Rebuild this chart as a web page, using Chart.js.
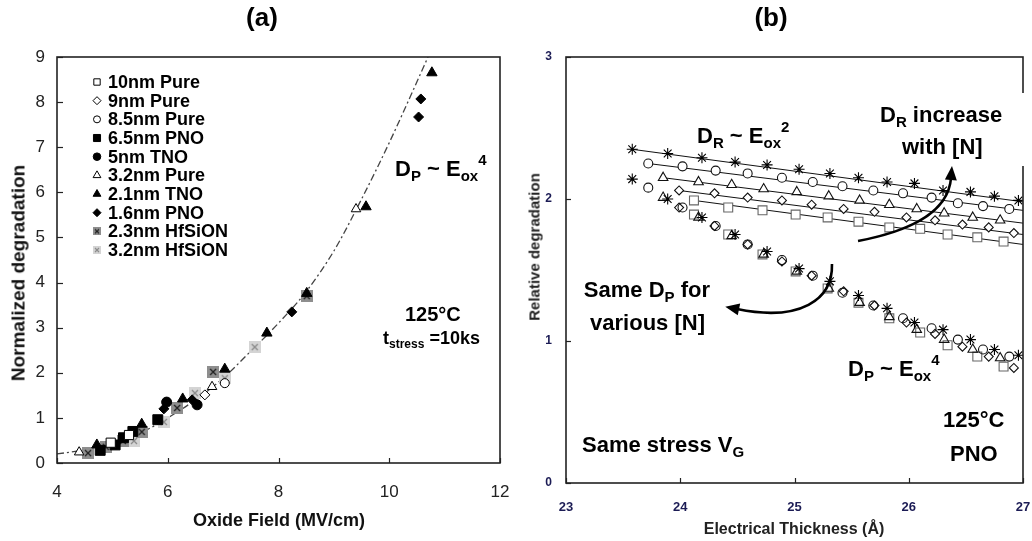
<!DOCTYPE html>
<html><head><meta charset="utf-8">
<script src="https://cdn.jsdelivr.net/npm/chart.js@4.4.0/dist/chart.umd.min.js"></script>
<style>
html,body{margin:0;padding:0;background:#fff;}
#wrap{position:relative;width:1032px;height:541px;overflow:hidden;font-family:"Liberation Sans",Arial,Helvetica,sans-serif;}
.box{position:absolute;top:0;width:516px;height:541px;}
.t{position:absolute;font-weight:bold;color:#000;white-space:nowrap;line-height:1;font-size:22px;}
.sb{font-size:15px;position:relative;top:5px;}
.sp{font-size:15px;position:relative;top:-11px;}
.rot{position:absolute;transform-origin:center center;white-space:nowrap;font-weight:bold;line-height:1;}
</style></head>
<body>
<div id="wrap">
  <div class="box" style="left:0"><canvas id="ca" width="516" height="541"></canvas></div>
  <div class="box" style="left:516px"><canvas id="cb" width="516" height="541"></canvas></div>

  <div class="t" style="left:262px;top:4px;font-size:26px;transform:translateX(-50%)">(a)</div>
  <div class="t" style="left:771px;top:4px;font-size:26px;transform:translateX(-50%)">(b)</div>

  <!-- panel (a) annotations -->
  <div class="t" style="left:395px;top:158px;">D<span class="sb">P</span> ~ E<span class="sb">ox</span><span class="sp">4</span></div>
  <div class="t" style="left:405px;top:304px;font-size:20px;">125°C</div>
  <div class="t" style="left:383px;top:329px;font-size:18px;">t<span class="sb" style="font-size:12px;top:4px">stress</span> =10ks</div>
  <div class="t" style="left:279px;top:511px;font-size:18px;color:#111;transform:translateX(-50%)">Oxide Field (MV/cm)</div>
  <div class="rot" style="left:18px;top:273px;font-size:19px;color:#111;transform:translate(-50%,-50%) rotate(-90deg)">Normalized degradation</div>

  <!-- panel (b) annotations -->
  <div style="position:absolute;left:1017px;top:93px;width:12px;height:73px;background:#fff;"></div>
  <div class="t" style="left:697px;top:125px;">D<span class="sb">R</span> ~ E<span class="sb">ox</span><span class="sp">2</span></div>
  <div class="t" style="left:880px;top:104px;">D<span class="sb">R</span> increase</div>
  <div class="t" style="left:902px;top:136px;">with [N]</div>
  <div class="t" style="right:322px;top:279px;text-align:right;">Same D<span class="sb">P</span> for</div>
  <div class="t" style="right:327px;top:312px;text-align:right;">various [N]</div>
  <div class="t" style="left:848px;top:358px;">D<span class="sb">P</span> ~ E<span class="sb">ox</span><span class="sp">4</span></div>
  <div class="t" style="left:943px;top:409px;">125°C</div>
  <div class="t" style="left:950px;top:443px;">PNO</div>
  <div class="t" style="left:582px;top:434px;">Same stress V<span class="sb">G</span></div>
  <div class="t" style="left:794px;top:521px;font-size:16px;color:#222;transform:translateX(-50%)">Electrical Thickness (Å)</div>
  <div class="rot" style="left:534px;top:247px;font-size:15px;color:#222;transform:translate(-50%,-50%) rotate(-90deg)">Relative degradation</div>
</div>

<script>
// ================= DATA =================
// Panel (a): normalized degradation vs oxide field
const aSeriesNames = ["10nm Pure","9nm Pure","8.5nm Pure","6.5nm PNO","5nm TNO","3.2nm Pure","2.1nm TNO","1.6nm PNO","2.3nm HfSiON","3.2nm HfSiON"];
const pure10 = [[4.97,0.45],[5.30,0.62]];
const pure9  = [[6.67,1.51]];
const pure85 = [[7.03,1.77]];
const pno65  = [[4.78,0.28],[5.05,0.40],[5.20,0.56],[5.37,0.70],[5.82,0.96]];
const tno5   = [[5.98,1.35],[6.53,1.29]];
const pure32 = [[4.40,0.24],[6.80,1.69],[9.40,5.63]];
const tno21  = [[4.72,0.40],[5.53,0.86],[6.27,1.42],[7.03,2.08],[7.79,2.88],[8.51,3.76],[9.58,5.68],[10.77,8.65]];
const pno16  = [[5.93,1.20],[6.44,1.40],[8.24,3.35],[10.53,7.67],[10.57,8.07]];
const hf23   = [[4.56,0.22],[4.88,0.36],[5.19,0.49],[5.53,0.69],[6.17,1.22],[6.82,2.02],[8.51,3.70]];
const hf32   = [[5.39,0.49],[5.93,0.91],[6.49,1.55],[7.03,1.88],[7.57,2.57]];
// D_P ~ Eox^4 guide curve
const fitFieldX = [4.0,4.5,5.0,5.5,6.0,6.5,7.0,7.5,8.0,8.5,9.0,9.5,10.0,10.5,10.7];
const fitFieldY = [0.20,0.29,0.42,0.66,1.00,1.40,1.88,2.48,3.10,3.80,4.70,5.85,7.10,8.45,9.00];
const aXTicks = [4,6,8,10,12];
const aYTicks = [0,1,2,3,4,5,6,7,8,9];

// Panel (b): relative degradation vs electrical thickness
const thickStar = [23.58,23.89,24.19,24.48,24.76,25.04,25.31,25.56,25.81,26.05,26.30,26.54,26.75,26.96];
const drStar    = [2.35,2.32,2.29,2.26,2.24,2.21,2.18,2.15,2.12,2.11,2.06,2.05,2.02,1.99];
const dpStar    = [2.14,2.00,1.87,1.75,1.63,1.51,1.42,1.32,1.23,1.13,1.08,1.01,0.94,0.90];
const thickCirc = [23.72,24.02,24.31,24.59,24.89,25.16,25.42,25.69,25.95,26.20,26.43,26.65,26.88];
const drCirc    = [2.25,2.23,2.20,2.18,2.15,2.12,2.09,2.06,2.04,2.01,1.97,1.95,1.93];
const dpCirc    = [2.08,1.94,1.81,1.68,1.57,1.46,1.34,1.25,1.16,1.09,1.01,0.94,0.89];
const thickTri  = [23.85,24.16,24.45,24.73,25.02,25.30,25.57,25.83,26.07,26.31,26.56,26.80];
const drTri     = [2.15,2.12,2.10,2.07,2.05,2.02,1.99,1.96,1.93,1.90,1.87,1.85];
const dpTri     = [2.01,1.87,1.74,1.61,1.49,1.37,1.27,1.17,1.08,1.01,0.94,0.88];
const thickDia  = [23.99,24.30,24.59,24.89,25.15,25.43,25.70,25.98,26.23,26.47,26.70,26.92];
const drDia     = [2.06,2.04,2.01,1.99,1.96,1.93,1.91,1.87,1.85,1.82,1.80,1.76];
const dpDia     = [1.94,1.81,1.68,1.56,1.46,1.35,1.25,1.13,1.05,0.96,0.89,0.81];
const thickSq   = [24.12,24.42,24.72,25.01,25.29,25.56,25.83,26.10,26.34,26.60,26.83];
const drSq      = [1.99,1.94,1.92,1.89,1.87,1.84,1.80,1.79,1.75,1.73,1.70];
const dpSq      = [1.89,1.75,1.61,1.49,1.37,1.27,1.16,1.06,0.97,0.89,0.82];
// D_R ~ Eox^2 fit lines: [start, end at right frame]
const fitStar = [[23.58,2.35],[27,1.98]];
const fitCirc = [[23.72,2.25],[27,1.92]];
const fitTri  = [[23.85,2.15],[27,1.83]];
const fitDia  = [[23.99,2.06],[27,1.75]];
const fitSq   = [[24.12,1.99],[27,1.68]];
const bXTicks = [23,24,25,26,27];
const bYTicks = [0,1,2,3];
// curved annotation arrows (data units): start, ctrl1, ctrl2, end
const arrowUp   = [[25.556,1.704],[25.967,1.768],[26.344,1.887],[26.370,2.148]];
const arrowLeft = [[25.328,1.542],[25.337,1.289],[25.048,1.134],[24.497,1.225]];

// ================= RENDER =================
const FONT = "'Liberation Sans', Arial, Helvetica, sans-serif";
Chart.defaults.font.family = FONT;

const pts = a => a.map(p => ({x:p[0], y:p[1]}));
const zip = (xs, ys) => xs.map((x,i) => ({x, y:ys[i]}));

function xbox(size, fill, stroke, lw){
  const c = document.createElement('canvas'); c.width = c.height = size;
  const g = c.getContext('2d');
  g.fillStyle = fill; g.fillRect(0,0,size,size);
  g.strokeStyle = stroke; g.lineWidth = lw;
  const m = size*0.25;
  g.beginPath(); g.moveTo(m,m); g.lineTo(size-m,size-m); g.moveTo(size-m,m); g.lineTo(m,size-m); g.stroke();
  return c;
}
const hf23img = xbox(12,'#8e8e8e','#1e1e1e',1.3), hf32img = xbox(12,'#d4d4d4','#8a8a8a',1.3);
const hf23sm = xbox(8,'#8e8e8e','#1e1e1e',1.1), hf32sm = xbox(8,'#d4d4d4','#8a8a8a',1.1);

const aStyles = [
  {ps:'rect',     r:6.5, fill:'#fff', stroke:'#000', lr:4.5},
  {ps:'rectRot',  r:5,   fill:'#fff', stroke:'#000', lr:4},
  {ps:'circle',   r:4.5, fill:'#fff', stroke:'#000', lr:3.5},
  {ps:'rect',     r:7,   fill:'#000', stroke:'#000', lr:5},
  {ps:'circle',   r:5,   fill:'#000', stroke:'#000', lr:3.8},
  {ps:'triangle', r:5.5, fill:'#fff', stroke:'#000', lr:4.5},
  {ps:'triangle', r:6,   fill:'#000', stroke:'#000', lr:4.5},
  {ps:'rectRot',  r:5,   fill:'#000', stroke:'#000', lr:4},
  {ps:hf23img,    r:6,   lps:hf23sm},
  {ps:hf32img,    r:6,   lps:hf32sm}
];
const aData = [pure10,pure9,pure85,pno65,tno5,pure32,tno21,pno16,hf23,hf32];

const framePlugin = {
  id:'frame',
  afterDraw(chart, args, o){
    const {ctx, chartArea:a, scales:{x,y}} = chart;
    ctx.save();
    ctx.strokeStyle = o.color; ctx.lineWidth = 1.2;
    x.ticks.forEach(t => { const px = Math.round(x.getPixelForValue(t.value))+0.5;
      ctx.beginPath(); ctx.moveTo(px,a.bottom); ctx.lineTo(px,a.bottom-o.tx); ctx.stroke(); });
    y.ticks.forEach(t => { const py = Math.round(y.getPixelForValue(t.value))+0.5;
      ctx.beginPath(); ctx.moveTo(a.left,py); ctx.lineTo(a.left+o.ty,py); ctx.stroke(); });
    ctx.lineWidth = o.width;
    ctx.strokeRect(a.left, a.top, a.right-a.left, a.bottom-a.top);
    ctx.restore();
  }
};

const legendPlugin = {
  id:'inlegend',
  afterDraw(chart, args, o){
    if(!o.enabled) return;
    const ctx = chart.ctx;
    ctx.save();
    aSeriesNames.forEach((name,i) => {
      const st = aStyles[i];
      const y = o.y0 + i*o.dy;
      ctx.fillStyle = st.fill || '#000'; ctx.strokeStyle = st.stroke || '#000';
      Chart.helpers.drawPoint(ctx, {pointStyle: st.lps || st.ps, radius: st.lr, rotation:0, borderWidth:1}, o.x0, y);
      ctx.fillStyle = '#000';
      ctx.font = 'bold 18px ' + FONT;
      ctx.textBaseline = 'middle'; ctx.textAlign = 'left';
      ctx.fillText(name, o.x0 + 11, y + 1);
    });
    ctx.restore();
  }
};

const arrowPlugin = {
  id:'arrows',
  afterDatasetsDraw(chart, args, o){
    if(!o.list) return;
    const {ctx, scales:{x,y}} = chart;
    ctx.save();
    ctx.strokeStyle = '#000'; ctx.fillStyle = '#000'; ctx.lineWidth = 2.6;
    o.list.forEach(arr => {
      const p = arr.map(q => [x.getPixelForValue(q[0]), y.getPixelForValue(q[1])]);
      ctx.beginPath(); ctx.moveTo(p[0][0],p[0][1]);
      ctx.bezierCurveTo(p[1][0],p[1][1],p[2][0],p[2][1],p[3][0],p[3][1]); ctx.stroke();
      let dx = p[3][0]-p[2][0], dy = p[3][1]-p[2][1]; const L = Math.hypot(dx,dy); dx/=L; dy/=L;
      const tip = [p[3][0]+dx*12, p[3][1]+dy*12];
      const nx = -dy, ny = dx;
      ctx.beginPath(); ctx.moveTo(tip[0],tip[1]);
      ctx.lineTo(p[3][0]-dx*2+nx*6, p[3][1]-dy*2+ny*6);
      ctx.lineTo(p[3][0]-dx*2-nx*6, p[3][1]-dy*2-ny*6);
      ctx.closePath(); ctx.fill();
    });
    ctx.restore();
  }
};

function fixedTicks(arr){ return function(scale){ scale.ticks = arr.map(v => ({value:v})); }; }
function zeroPad(s){ s.paddingLeft = 0; s.paddingRight = 0; s.paddingTop = 0; s.paddingBottom = 0; }

// ---------- Chart (a) ----------
const aDatasets = aData.map((d,i) => ({
  label: aSeriesNames[i], data: pts(d), showLine:false,
  pointStyle: aStyles[i].ps, pointRadius: aStyles[i].r, pointHoverRadius: aStyles[i].r,
  backgroundColor: aStyles[i].fill || '#888', borderColor: aStyles[i].stroke || '#000', pointBorderWidth:1, order:0
}));
aDatasets.push({label:'fit', data: zip(fitFieldX, fitFieldY), showLine:true, pointRadius:0,
  borderColor:'#444', borderWidth:1.3, borderDash:[7,3,2,3], cubicInterpolationMode:'monotone', fill:false, order:1});

new Chart(document.getElementById('ca'), {
  type:'scatter',
  data:{datasets:aDatasets},
  plugins:[framePlugin, legendPlugin],
  options:{
    responsive:false, animation:false, devicePixelRatio:1,
    layout:{padding:{left:0, top:57, right:16, bottom:0}},
    plugins:{legend:{display:false}, tooltip:{enabled:false},
      frame:{color:'#222', width:1.6, tx:5, ty:6},
      inlegend:{enabled:true, x0:97, y0:82, dy:18.67}},
    scales:{
      x:{type:'linear', min:4, max:12, afterBuildTicks:fixedTicks(aXTicks),
        ticks:{padding:19, font:{size:17}, color:'#222'},
        grid:{display:false, drawTicks:false}, border:{display:false},
        afterFit(s){ s.height = 78; zeroPad(s); }},
      y:{type:'linear', min:0, max:9, afterBuildTicks:fixedTicks(aYTicks),
        ticks:{padding:12, font:{size:17}, color:'#222'},
        grid:{display:false, drawTicks:false}, border:{display:false},
        afterFit(s){ s.width = 57; zeroPad(s); }}
    }
  }
});

// ---------- Chart (b) ----------
const bSeries = [
  {name:'star',     th:thickStar, dr:drStar, dp:dpStar, fit:fitStar, ps:'star',     r:5.5, col:'#000'},
  {name:'circle',   th:thickCirc, dr:drCirc, dp:dpCirc, fit:fitCirc, ps:'circle',   r:4.5, col:'#111'},
  {name:'triangle', th:thickTri,  dr:drTri,  dp:dpTri,  fit:fitTri,  ps:'triangle', r:5.5, col:'#111'},
  {name:'diamond',  th:thickDia,  dr:drDia,  dp:dpDia,  fit:fitDia,  ps:'rectRot',  r:4.5, col:'#111'},
  {name:'square',   th:thickSq,   dr:drSq,   dp:dpSq,   fit:fitSq,   ps:'rect',     r:6.3, col:'#666'}
];
const bDatasets = [];
bSeries.forEach(s => {
  bDatasets.push({label:s.name+' D_R', data:zip(s.th,s.dr), showLine:false, pointStyle:s.ps, pointRadius:s.r,
    backgroundColor:'#fff', borderColor:s.col, pointBorderWidth:1.1, order:0});
  bDatasets.push({label:s.name+' D_P', data:zip(s.th,s.dp), showLine:false, pointStyle:s.ps, pointRadius:s.r,
    backgroundColor:'rgba(255,255,255,0)', borderColor:s.col, pointBorderWidth:1.1, order:0});
  bDatasets.push({label:s.name+' fit', data:pts(s.fit), showLine:true, pointRadius:0,
    borderColor:'#111', borderWidth:1, order:1});
});

new Chart(document.getElementById('cb'), {
  type:'scatter',
  data:{datasets:bDatasets},
  plugins:[framePlugin, arrowPlugin],
  options:{
    responsive:false, animation:false, devicePixelRatio:1,
    layout:{padding:{left:0, top:57, right:9, bottom:0}},
    plugins:{legend:{display:false}, tooltip:{enabled:false},
      frame:{color:'#222', width:1.6, tx:5, ty:5},
      arrows:{list:[arrowUp, arrowLeft]}},
    scales:{
      x:{type:'linear', min:23, max:27, afterBuildTicks:fixedTicks(bXTicks),
        ticks:{padding:17, font:{size:13, weight:'bold'}, color:'#1c1c55'},
        grid:{display:false, drawTicks:false}, border:{display:false},
        afterFit(s){ s.height = 58; zeroPad(s); }},
      y:{type:'linear', min:0, max:3, afterBuildTicks:fixedTicks(bYTicks),
        ticks:{padding:14, font:{size:12, weight:'bold'}, color:'#1c1c55'},
        grid:{display:false, drawTicks:false}, border:{display:false},
        afterFit(s){ s.width = 50; zeroPad(s); }}
    }
  }
});
</script>
</body></html>
